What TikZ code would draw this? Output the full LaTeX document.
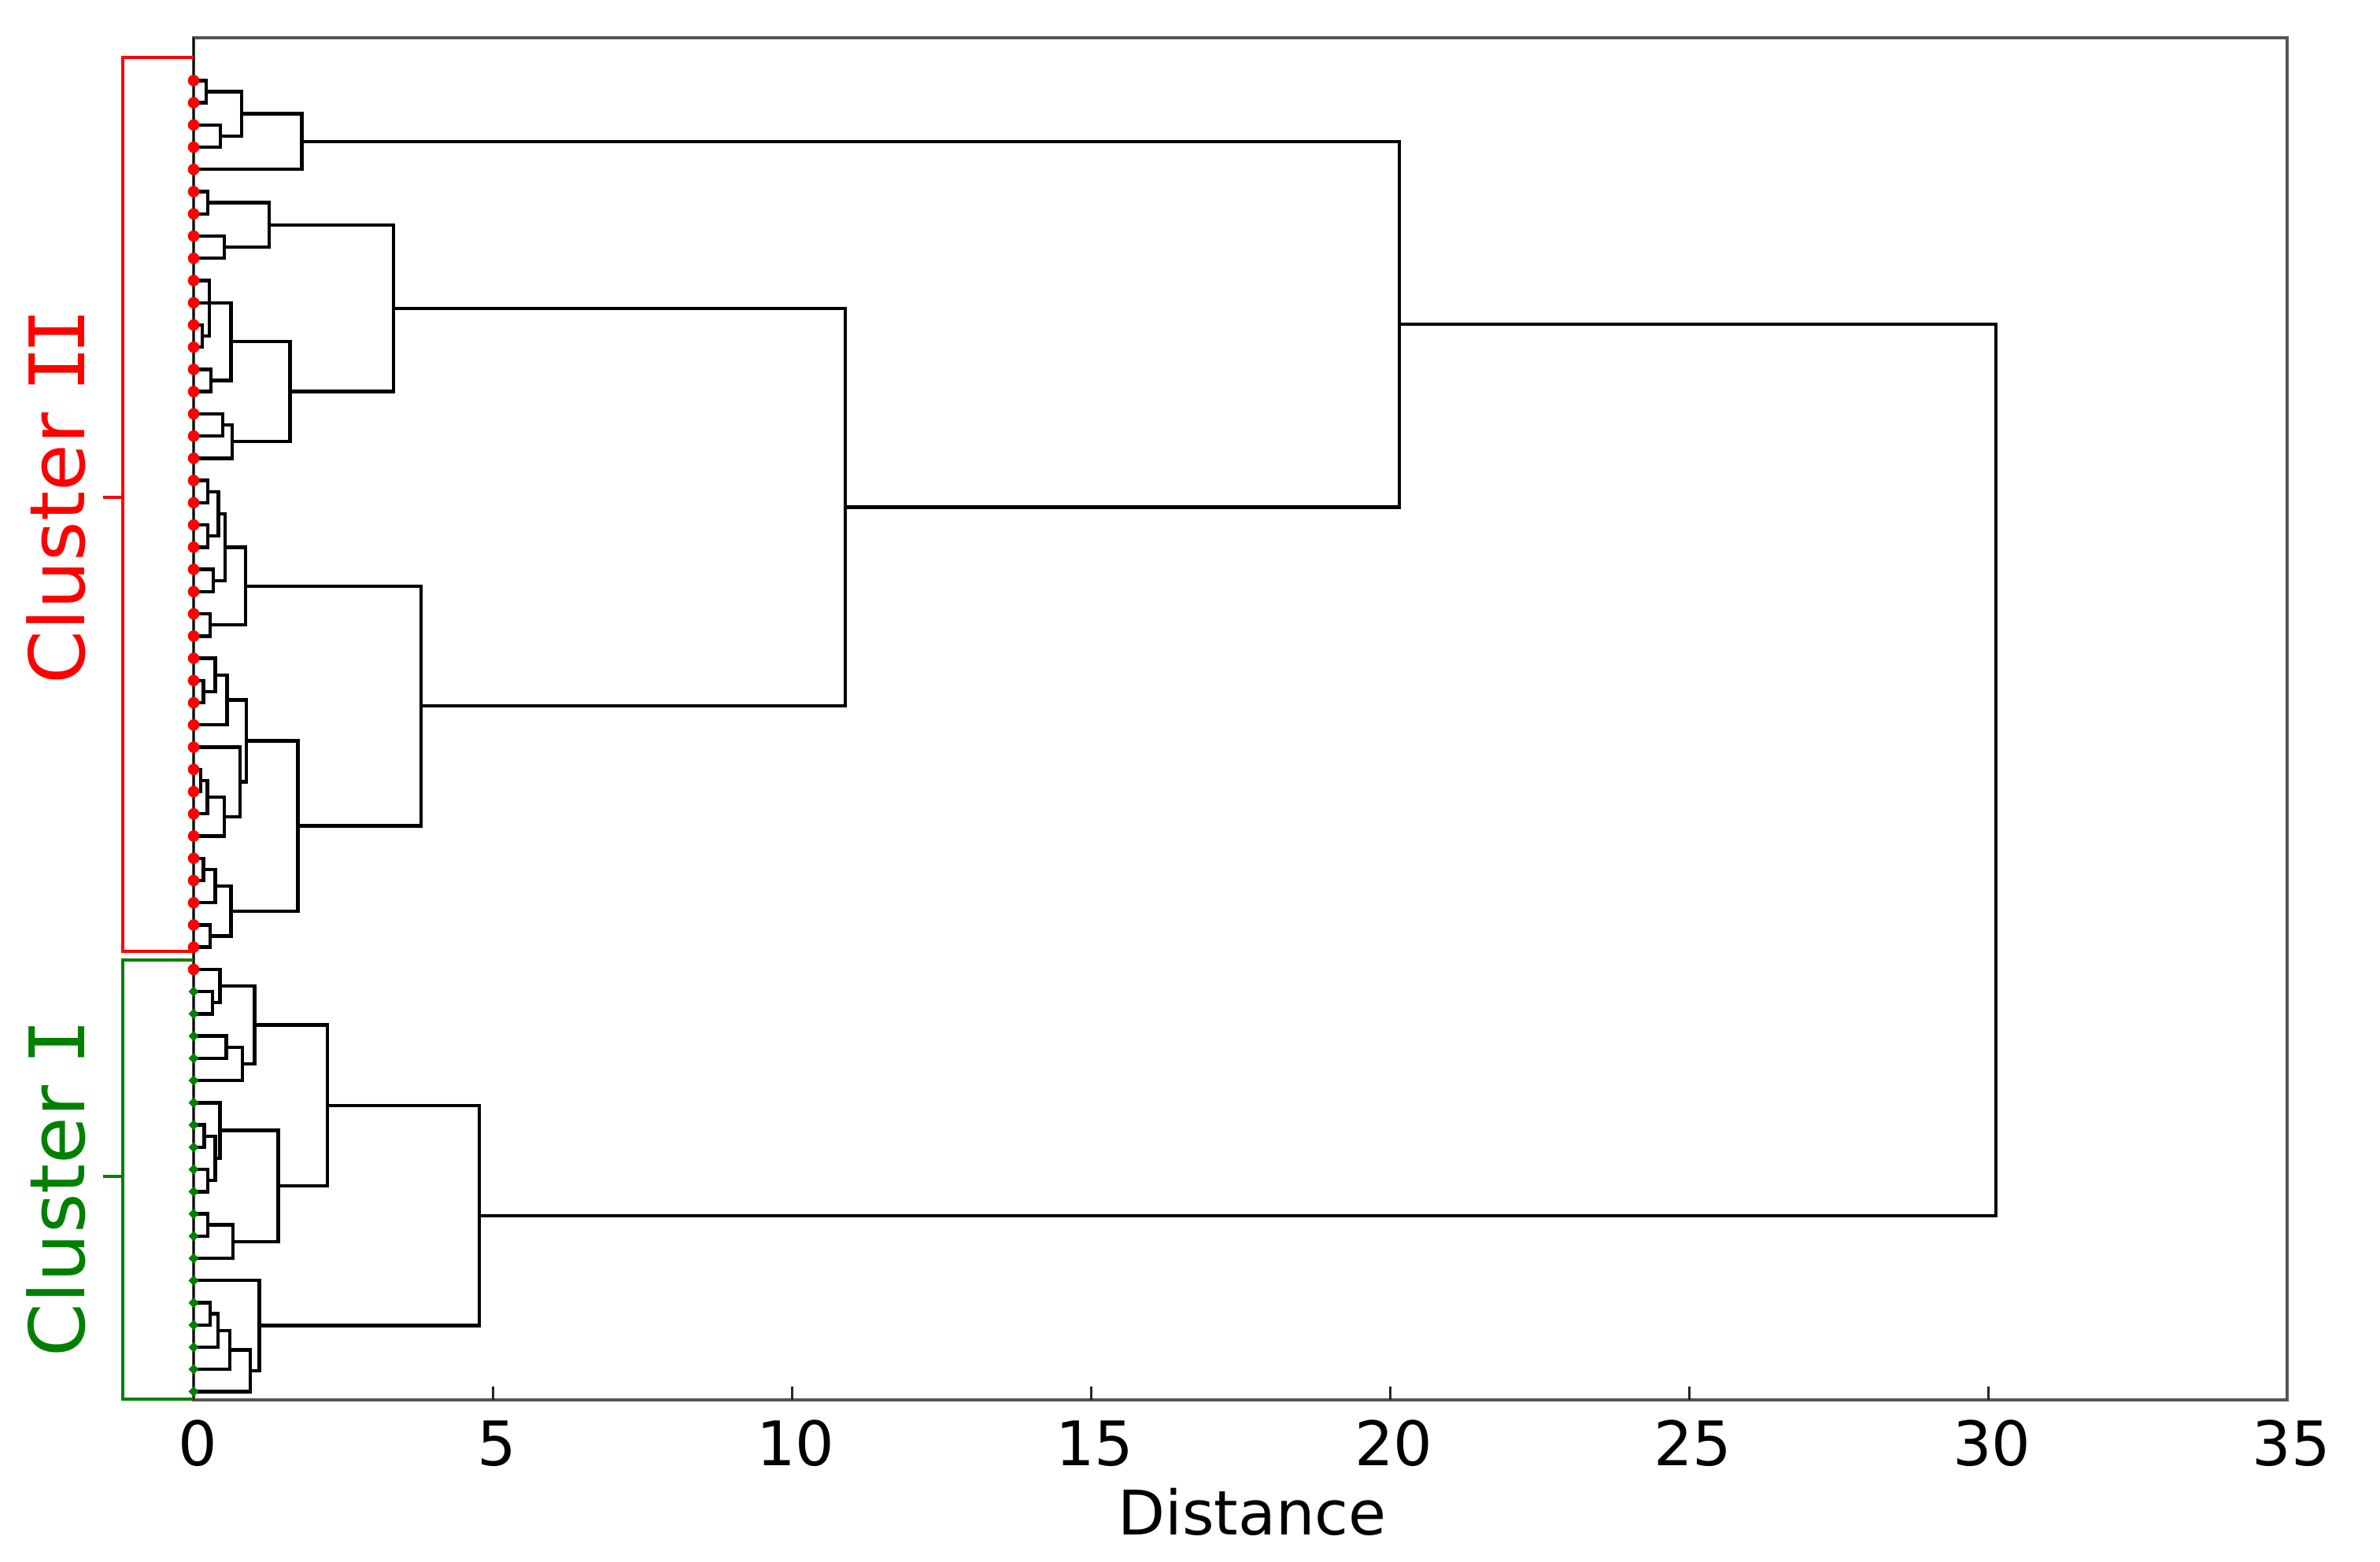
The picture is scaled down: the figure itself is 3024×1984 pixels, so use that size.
\documentclass[tikz,border=0pt]{standalone}
\usepackage{fontspec}
\setmainfont{DejaVu Sans}
\newfontfamily\slabfont{DejaVu Sans Mono}
\usetikzlibrary{calc}
\definecolor{mplgreen}{RGB}{0,128,0}
\definecolor{framegray}{RGB}{85,85,85}
% merge: name, x position, child A, child B
\newcommand\mrg[4]{%
  \coordinate (mx) at (#2,0);
  \draw[dlink] (#3) -- (#3 -| mx) -- (#4 -| mx) -- (#4);
  \coordinate (#1) at ($(#3 -| mx)!0.5!(#4 -| mx)$);
}
\newcommand\slabI{\makebox[0.5em]{\slabfont I}}
\begin{document}
\begin{tikzpicture}[x=0.25pt,y=-0.25pt,
  dlink/.style={line width=1.1pt, black, line join=miter, line cap=rect},
  framestyle/.style={line width=0.8pt, framegray},
  tickstyle/.style={line width=0.75pt, black!85},
  ticklabel/.style={anchor=base, font=\fontsize{19.5}{22}\selectfont},
  clusterlabel/.style={rotate=90, anchor=base, font=\fontsize{24.3}{27}\selectfont},
  boxline/.style={line width=1pt}]
\useasboundingbox (0,0) rectangle (3024,1984);

% frame
\draw[framestyle] (246,48) rectangle (2906,1779);
% leaf axis
\draw[line width=0.55pt, black] (246,48) -- (246,1779);

% leaves
\foreach \i in {1,...,60}
  \coordinate (L\i) at (246,{102.3+(\i-1)*28.24});

% ---- top group (leaves 1-5)
\mrg{a12}{261.7}{L1}{L2}
\mrg{a34}{280}{L3}{L4}
\mrg{a1234}{306.7}{a12}{a34}
\mrg{A5}{383.3}{a1234}{L5}

% ---- leaves 6-18
\mrg{b67}{264}{L6}{L7}
\mrg{b89}{285}{L8}{L9}
\mrg{B69}{341.7}{b67}{b89}
\mrg{c1213}{256.7}{L12}{L13}
\mrg{c10}{266}{L10}{c1213}
\mrg{c1415}{267.7}{L14}{L15}
\mrg{C1115}{293.3}{L11}{c1415}
\mrg{d1617}{282.7}{L16}{L17}
\mrg{D18}{295}{d1617}{L18}
\mrg{E}{368.3}{C1115}{D18}
\mrg{F}{500}{B69}{E}

% ---- leaves 19-26
\mrg{g1920}{264}{L19}{L20}
\mrg{g2122}{264}{L21}{L22}
\mrg{G1922}{277.3}{g1920}{g2122}
\mrg{g2324}{270.7}{L23}{L24}
\mrg{G1924}{285.7}{G1922}{g2324}
\mrg{g2526}{266.7}{L25}{L26}
\mrg{G}{311.7}{G1924}{g2526}

% ---- leaves 27-40
\mrg{h2829}{258.3}{L28}{L29}
\mrg{h27}{273.3}{L27}{h2829}
\mrg{h30}{288.3}{h27}{L30}
\mrg{i3233}{255}{L32}{L33}
\mrg{i34}{263.3}{i3233}{L34}
\mrg{i35}{285}{i34}{L35}
\mrg{i31}{305}{L31}{i35}
\mrg{H1}{312.7}{h30}{i31}
\mrg{j3637}{258.3}{L36}{L37}
\mrg{j38}{273.3}{j3637}{L38}
\mrg{j3940}{266.7}{L39}{L40}
\mrg{J}{293.3}{j38}{j3940}
\mrg{H}{378.3}{H1}{J}
\mrg{K}{535}{G}{H}
\mrg{M}{1074}{F}{K}
\mrg{N}{1778}{A5}{M}

% ---- leaves 41-60
\mrg{p4243}{270}{L42}{L43}
\mrg{p41}{279.3}{L41}{p4243}
\mrg{p4445}{287.3}{L44}{L45}
\mrg{p46}{307.7}{p4445}{L46}
\mrg{P1}{323.3}{p41}{p46}
\mrg{q4849}{259.3}{L48}{L49}
\mrg{q5051}{264}{L50}{L51}
\mrg{q48}{273.3}{q4849}{q5051}
\mrg{q47}{279.3}{L47}{q48}
\mrg{q5253}{264}{L52}{L53}
\mrg{q54}{296}{q5253}{L54}
\mrg{Q}{353.3}{q47}{q54}
\mrg{P}{416}{P1}{Q}
\mrg{r5657}{266.7}{L56}{L57}
\mrg{r58}{276.7}{r5657}{L58}
\mrg{r59}{291.7}{r58}{L59}
\mrg{r60}{317.7}{r59}{L60}
\mrg{R}{329.3}{L55}{r60}
\mrg{S}{609}{P}{R}
\mrg{T}{2536}{N}{S}

% markers
\foreach \i in {1,...,41}
  \fill[red] (L\i) circle[radius=7.3];
\foreach \i in {42,...,60}
  \fill[mplgreen] ($(L\i)+(-6.5,0)$) -- ++(6.5,-6.5) -- ++(6.5,6.5) -- ++(-6.5,6.5) -- cycle;

% cluster brackets
\coordinate (rTop) at (246,72.7);
\coordinate (rBot) at (246,1209.3);
\coordinate (gTop) at (246,1220);
\coordinate (gBot) at (246,1778);
\draw[boxline, red] (rTop) -- (156,72.7) -- (156,1209.3) -- (rBot);
\draw[boxline, red] (131,632) -- (156,632);
\draw[boxline, mplgreen] (gTop) -- (156,1220) -- (156,1778) -- (gBot);
\draw[boxline, mplgreen] (131,1495) -- (156,1495);

\node[clusterlabel, text=red] (c2) at (108,633) {Cluster \slabI\slabI};
\node[clusterlabel, text=mplgreen] (c1) at (108,1512) {Cluster \slabI};

% x axis ticks and labels
\foreach \v in {5,10,...,30}
  \draw[tickstyle] ({246+\v*76},1779) -- ++(0,-17);
\foreach \v in {0,5,...,35}
  \node[ticklabel] (t\v) at ({246+\v*76+5},1862) {\v};
\node[ticklabel] (xlab) at (1591,1950) {Distance};
\end{tikzpicture}
\end{document}
